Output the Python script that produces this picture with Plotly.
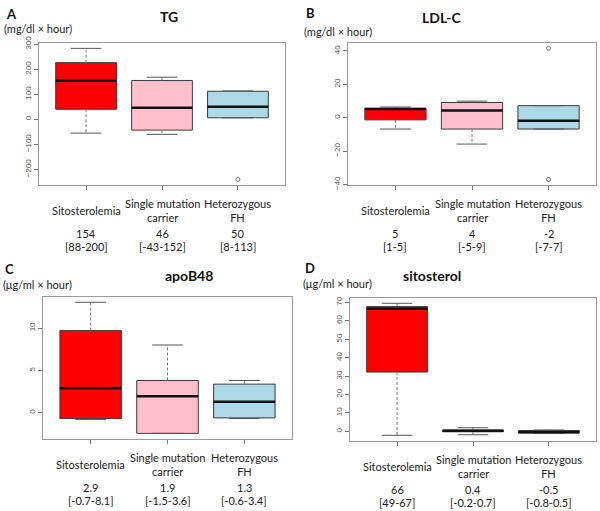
import plotly.graph_objects as go

W, H = 600, 511

groups = ["Sitosterolemia", "Single mutation<br>carrier", "Heterozygous<br>FH"]
colors = ["#ff0000", "#ffc0cb", "#add8e6"]
positions = [1, 2, 3]

# TG (mg/dl x hour)
tg_q1 = [40, -43, 6]
tg_med = [154, 46, 50]
tg_q3 = [226, 155, 112]
tg_lo = [-55, -60, 6]
tg_hi = [283, 168, 113]
tg_out = [[], [], [-240]]
tg_med_txt = ["154", "46", "50"]
tg_iqr_txt = ["[88-200]", "[-43-152]", "[8-113]"]
tg_ticks = [-200, -100, 0, 100, 200, 300]

# LDL-C (mg/dl x hour)
ldl_q1 = [-1.3, -6.8, -6.8]
ldl_med = [5.2, 4.3, -1.8]
ldl_q3 = [5.6, 9.1, 7.2]
ldl_lo = [-6.8, -15.8, -6.8]
ldl_hi = [6.4, 9.9, 7.2]
ldl_out = [[], [], [41.5, -37]]
ldl_med_txt = ["5", "4", "-2"]
ldl_iqr_txt = ["[1-5]", "[-5-9]", "[-7-7]"]
ldl_ticks = [-40, -20, 0, 20, 40]

# apoB48 (ug/ml x hour)
apo_q1 = [-0.7, -2.45, -0.62]
apo_med = [2.9, 1.95, 1.3]
apo_q3 = [9.7, 3.8, 3.37]
apo_lo = [-0.8, -2.45, -0.7]
apo_hi = [13.05, 8.0, 3.8]
apo_out = [[], [], []]
apo_med_txt = ["2.9", "1.9", "1.3"]
apo_iqr_txt = ["[-0.7-8.1]", "[-1.5-3.6]", "[-0.6-3.4]"]
apo_ticks = [0, 5, 10]

# sitosterol (ug/ml x hour)
sit_q1 = [32.2, -0.2, -0.8]
sit_med = [66.5, 0.4, -0.5]
sit_q3 = [67.7, 0.7, 0.5]
sit_lo = [-2.1, -1.8, -1.0]
sit_hi = [69.5, 2.0, 0.8]
sit_out = [[], [], []]
sit_med_txt = ["66", "0.4", "-0.5"]
sit_iqr_txt = ["[49-67]", "[-0.2-0.7]", "[-0.8-0.5]"]
sit_ticks = [0, 10, 20, 30, 40, 50, 60, 70]

# frame = (left, right, top, bottom) px; head = (letter x, letter y, title x, title y, unit y) px
panels = [
    dict(letter="A", title="TG", unit="(mg/dl × hour)",
         frame=(39, 285, 37, 182), head=(4, 7, 158, 10, 22),
         q1=tg_q1, med=tg_med, q3=tg_q3, lo=tg_lo, hi=tg_hi, out=tg_out,
         mtxt=tg_med_txt, itxt=tg_iqr_txt, ticks=tg_ticks),
    dict(letter="B", title="LDL-C", unit="(mg/dl × hour)",
         frame=(348, 596, 37, 182), head=(304, 6, 463, 11, 25),
         q1=ldl_q1, med=ldl_med, q3=ldl_q3, lo=ldl_lo, hi=ldl_hi, out=ldl_out,
         mtxt=ldl_med_txt, itxt=ldl_iqr_txt, ticks=ldl_ticks),
    dict(letter="C", title="apoB48", unit="(μg/ml × hour)",
         frame=(43, 292, 297, 442), head=(3, 268, 163, 275, 284),
         q1=apo_q1, med=apo_med, q3=apo_q3, lo=apo_lo, hi=apo_hi, out=apo_out,
         mtxt=apo_med_txt, itxt=apo_iqr_txt, ticks=apo_ticks),
    dict(letter="D", title="sitosterol", unit="(μg/ml × hour)",
         frame=(350, 596, 298, 444), head=(303, 267, 463, 275, 283),
         q1=sit_q1, med=sit_med, q3=sit_q3, lo=sit_lo, hi=sit_hi, out=sit_out,
         mtxt=sit_med_txt, itxt=sit_iqr_txt, ticks=sit_ticks),
]

FONT = "Lato, 'Open Sans', sans-serif"
fig = go.Figure()
annotations = []
layout_axes = {}
boxw = 0.8
staple = 0.2

for i, p in enumerate(panels):
    n = "" if i == 0 else str(i + 1)
    xa, ya = "x" + n, "y" + n
    x0, x1, y0, y1 = p["frame"]

    # R-style range: data extent padded by 4%
    vals = p["lo"] + p["hi"] + [v for o in p["out"] for v in o]
    lo, hi = min(vals), max(vals)
    pad = (hi - lo) * 0.04

    for k, pos in enumerate(positions):
        fig.add_trace(go.Box(
            x=[pos], q1=[p["q1"][k]], median=[p["med"][k]], q3=[p["q3"][k]],
            lowerfence=[p["q1"][k]], upperfence=[p["q3"][k]],
            width=boxw, fillcolor=colors[k], line=dict(color="#3a3a3a", width=1),
            whiskerwidth=0, boxpoints=False, showlegend=False, xaxis=xa, yaxis=ya,
        ))
        # dashed whiskers
        fig.add_trace(go.Scatter(
            x=[pos, pos, None, pos, pos], y=[p["q3"][k], p["hi"][k], None, p["q1"][k], p["lo"][k]],
            mode="lines", line=dict(color="#777", width=1, dash="3px,2px"),
            showlegend=False, hoverinfo="skip", xaxis=xa, yaxis=ya,
        ))
        # staples
        fig.add_trace(go.Scatter(
            x=[pos - staple, pos + staple, None, pos - staple, pos + staple],
            y=[p["hi"][k], p["hi"][k], None, p["lo"][k], p["lo"][k]],
            mode="lines", line=dict(color="#555", width=1),
            showlegend=False, hoverinfo="skip", xaxis=xa, yaxis=ya,
        ))
        # thick median
        fig.add_trace(go.Scatter(
            x=[pos - boxw / 2, pos + boxw / 2], y=[p["med"][k], p["med"][k]],
            mode="lines", line=dict(color="#111", width=2.5),
            showlegend=False, hoverinfo="skip", xaxis=xa, yaxis=ya,
        ))
        if p["out"][k]:
            fig.add_trace(go.Scatter(
                x=[pos] * len(p["out"][k]), y=p["out"][k], mode="markers",
                marker=dict(symbol="circle-open", size=4, color="#555", line=dict(width=0.8)),
                showlegend=False, xaxis=xa, yaxis=ya,
            ))

        # labels below the axis
        for txt, shift in ((groups[k], -26), (p["mtxt"][k], -49), (p["itxt"][k], -62)):
            annotations.append(dict(
                text=txt, xref=xa, yref=ya + " domain", x=pos, y=0,
                yanchor="middle", yshift=shift, showarrow=False,
                font=dict(family=FONT, size=11, color="#222"),
            ))

    common = dict(showline=True, mirror=True, linecolor="#9a9a9a", linewidth=1.2,
                  showgrid=False, zeroline=False, ticks="outside", ticklen=4,
                  tickcolor="#777", tickwidth=1)
    layout_axes["xaxis" + n] = dict(
        domain=[x0 / W, x1 / W], anchor=ya, range=[0.38, 3.62],
        tickvals=positions, ticktext=["", "", ""], fixedrange=True, **common)
    layout_axes["yaxis" + n] = dict(
        domain=[1 - y1 / H, 1 - y0 / H], anchor=xa, range=[lo - pad, hi + pad],
        tickvals=p["ticks"], tickangle=-90,
        tickfont=dict(family="Liberation Sans, Arial", size=8, color="#555"), **common)

    lx, ly, tx, ty, uy = p["head"]
    annotations.append(dict(text="<b>" + p["title"] + "</b>", xref="paper", yref="paper",
                            x=tx / W, y=1 - ty / H, yanchor="middle", showarrow=False,
                            font=dict(family=FONT, size=14, color="#111")))
    annotations.append(dict(text="<b>" + p["letter"] + "</b>", xref="paper", yref="paper",
                            x=lx / W, y=1 - ly / H, xanchor="left", yanchor="middle",
                            showarrow=False, font=dict(family=FONT, size=13, color="#111")))
    annotations.append(dict(text=p["unit"], xref="paper", yref="paper",
                            x=(lx - 2) / W, y=1 - uy / H, xanchor="left", yanchor="middle",
                            showarrow=False, font=dict(family=FONT, size=11, color="#222")))

fig.update_layout(
    width=W, height=H, margin=dict(l=0, r=0, t=0, b=0),
    paper_bgcolor="white", plot_bgcolor="white",
    annotations=annotations, showlegend=False, **layout_axes,
)

# the page body has a default 8px margin; drop it so the figure fills the window
fig.write_html("out.html", config={"displayModeBar": False},
               post_script="document.body.style.margin='0';")
